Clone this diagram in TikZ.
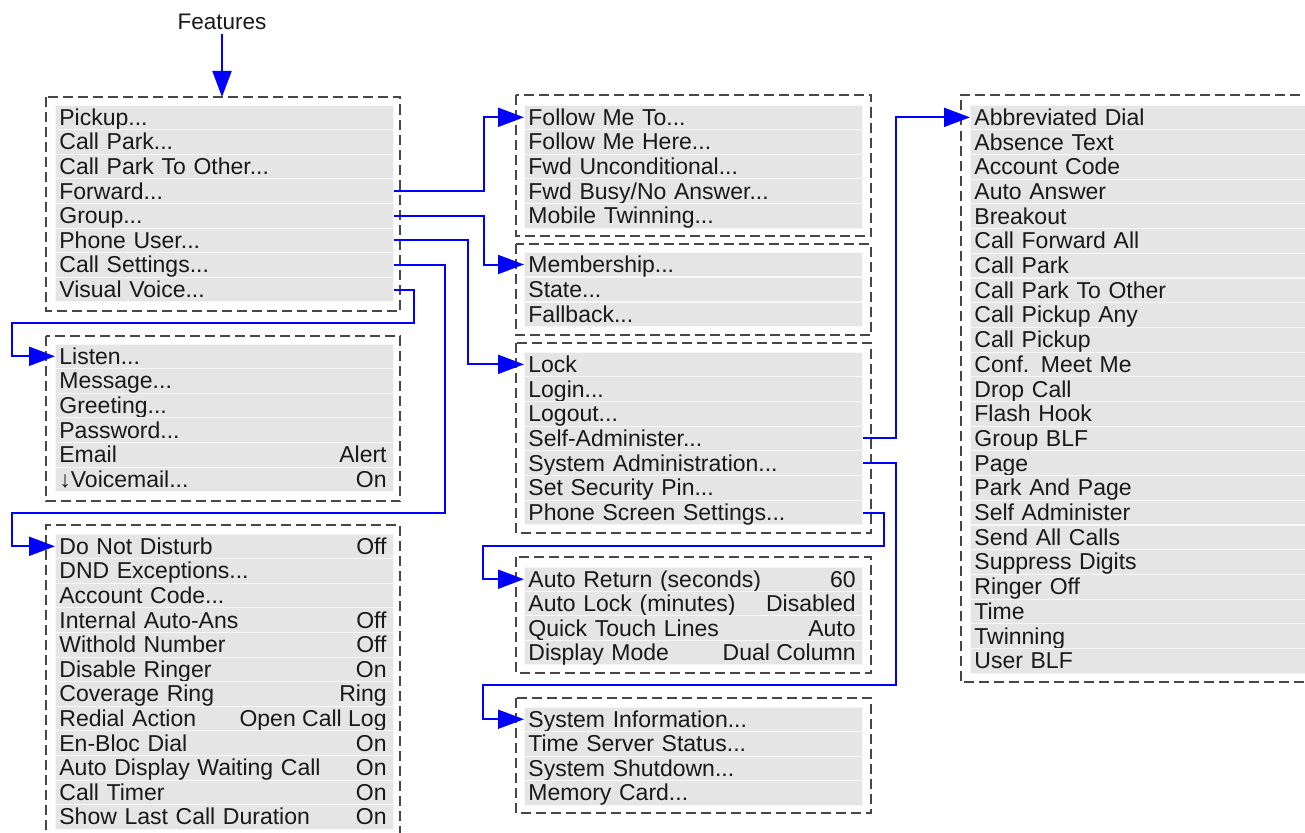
\documentclass[tikz,border=0pt]{standalone}
\usepackage{fontspec}
\setmainfont{Liberation Sans}
\usetikzlibrary{arrows.meta}
\newcommand\mdots{...}

\tikzset{
  menubox/.style={draw=black!72, line width=2pt, dash pattern=on 10pt off 5pt},
  menutext/.style={inner ysep=0pt, text height=16.5pt, text depth=0.5pt,
    text=black!90, font=\fontsize{23pt}{26pt}\selectfont},
  menurow/.style={menutext, anchor=west, fill=gray!20, draw=gray!6, line width=0.8pt,
    inner xsep=4pt, minimum height=24.6pt, text width=330pt, align=left},
  menuval/.style={menutext, anchor=east, inner xsep=0pt, xshift=-7pt},
  link/.style={draw=blue, line width=2pt},
  linkto/.style={link, -{Triangle[length=26pt,width=19pt]}},
}

\begin{document}
\begin{tikzpicture}[x=1pt,y=-1pt]
\useasboundingbox (0,0) rectangle (1305,832);
% dashed frames:
\path[menubox] (45.5,97) rectangle (400,311);
\path[menubox] (45.5,336) rectangle (400,501);
\path[menubox] (45.5,845) -- (45.5,525) -- (400,525) -- (400,845);
\path[menubox] (515.5,95) rectangle (871,236);
\path[menubox] (515.5,244) rectangle (871,335);
\path[menubox] (515.5,343) rectangle (871,533);
\path[menubox] (515.5,557) rectangle (871,673);
\path[menubox] (515.5,698) rectangle (871,813);
\path[menubox] (1315,95) -- (960.5,95) -- (960.5,682) -- (1315,682);
% features menu:
\node[menutext, inner sep=3pt, font=\fontsize{22.5pt}{24pt}\selectfont] (feat) at (222,22) {Features};
\coordinate (atop) at (222,97);
\foreach \t [count=\i] in {Pickup\mdots, Call Park\mdots, Call Park To Other\mdots, Forward\mdots,
    Group\mdots, Phone User\mdots, Call Settings\mdots, Visual Voice\mdots}
  \node[menurow] (a\i) at (55,{105+24.6*\i-12.3}) {\t};
% visual voice:
\foreach \i/\t/\v in {1/Listen\mdots/{}, 2/Message\mdots/{}, 3/Greeting\mdots/{}, 4/Password\mdots/{},
    5/Email/Alert, 6/↓Voicemail\mdots/On} {
  \node[menurow] (g\i) at (55,{344+24.6*\i-12.3}) {\t};
  \node[menuval] at (g\i.east) {\v};
}
% call settings:
\foreach \i/\t/\v in {1/Do Not Disturb/Off, 2/DND Exceptions\mdots/{}, 3/Account Code\mdots/{},
    4/Internal Auto-Ans/Off, 5/Withold Number/Off, 6/Disable Ringer/On,
    7/Coverage Ring/Ring, 8/Redial Action/Open Call Log, 9/En-Bloc Dial/On,
    10/Auto Display Waiting Call/On, 11/Call Timer/On, 12/Show Last Call Duration/On} {
  \node[menurow] (h\i) at (55,{534+24.6*\i-12.3}) {\t};
  \node[menuval] at (h\i.east) {\v};
}
% forward:
\foreach \t [count=\i] in {Follow Me To\mdots, Follow Me Here\mdots, Fwd Unconditional\mdots,
    {Fwd Busy/No Answer\mdots}, Mobile Twinning\mdots}
  \node[menurow] (b\i) at (524,{105+24.6*\i-12.3}) {\t};
% group:
\foreach \t [count=\i] in {Membership\mdots, State\mdots, Fallback\mdots}
  \node[menurow] (c\i) at (524,{252+25*\i-12.5}) {\t};
% phone user:
\foreach \t [count=\i] in {Lock, Login\mdots, Logout\mdots, Self-Administer\mdots,
    System Administration\mdots, Set Security Pin\mdots, Phone Screen Settings\mdots}
  \node[menurow] (d\i) at (524,{352+24.7*\i-12.35}) {\t};
% phone screen settings:
\foreach \i/\t/\v in {1/Auto Return (seconds)/60, 2/Auto Lock (minutes)/Disabled,
    3/Quick Touch Lines/Auto, 4/Display Mode/Dual Column} {
  \node[menurow] (e\i) at (524,{567+24.4*\i-12.2}) {\t};
  \node[menuval] at (e\i.east) {\v};
}
% system administration:
\foreach \t [count=\i] in {System Information\mdots, Time Server Status\mdots,
    System Shutdown\mdots, Memory Card\mdots}
  \node[menurow] (f\i) at (524,{707+24.5*\i-12.25}) {\t};
% self-administer:
\foreach \t [count=\i] in {Abbreviated Dial, Absence Text, Account Code, Auto Answer,
    Breakout, Call Forward All, Call Park, Call Park To Other, Call Pickup Any,
    Call Pickup, Conf. Meet Me, Drop Call, Flash Hook, Group BLF, Page, Park And Page,
    Self Administer, Send All Calls, Suppress Digits, Ringer Off, Time, Twinning, User BLF}
  \node[menurow, text width=337pt] (i\i) at (970,{105+24.7*\i-12.35}) {\t};
% links:
\draw[linkto] (feat.south) -- (atop);
\draw[linkto] (a4.east) -- ++(90,0) |- (b1.west);
\draw[linkto] (a5.east) -- ++(90,0) |- (c1.west);
\draw[linkto] (a6.east) -- ++(74,0) |- (d1.west);
\draw[linkto] (a7.east) -- ++(51,0) |- (12,513) |- (h1.west);
\draw[linkto] (a8.east) -- ++(20,0) |- (12,323) |- (g1.west);
\draw[linkto] (d4.east) -- ++(33,0) |- (i1.west);
\draw[linkto] (d5.east) -- ++(33,0) |- (483,685) |- (f1.west);
\draw[linkto] (d7.east) -- ++(21,0) |- (483,546) |- (e1.west);
\end{tikzpicture}
\end{document}
